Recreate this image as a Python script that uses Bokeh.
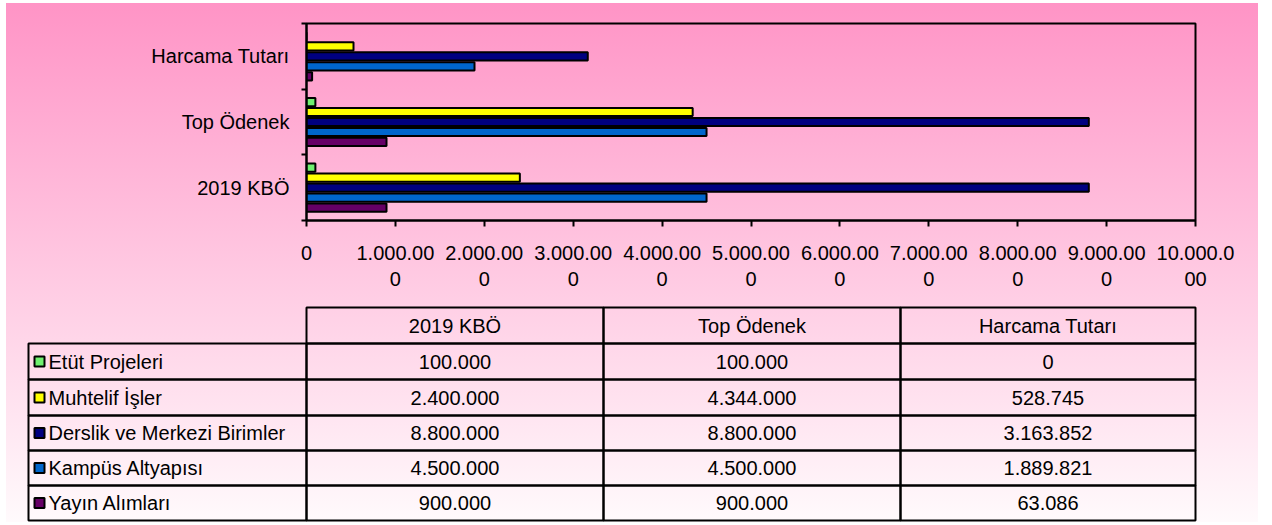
from bokeh.plotting import figure
from bokeh.models import Range1d, FixedTicker
from bokeh.embed import file_html
from bokeh.resources import INLINE
from bokeh.core.properties import value

# ---------------- data ----------------
categories = ["2019 KBÖ", "Top Ödenek", "Harcama Tutarı"]
series_names = ["Etüt Projeleri", "Muhtelif İşler", "Derslik ve Merkezi Birimler",
                "Kampüs Altyapısı", "Yayın Alımları"]
etut = [100000, 100000, 0]
muhtelif = [2400000, 4344000, 528745]
derslik = [8800000, 8800000, 3163852]
kampus = [4500000, 4500000, 1889821]
yayin = [900000, 900000, 63086]
series_values = [etut, muhtelif, derslik, kampus, yayin]
colors = ["#70F070", "#FFFF00", "#000080", "#0066CC", "#660066"]

x_ticks = [0, 1000000, 2000000, 3000000, 4000000, 5000000,
           6000000, 7000000, 8000000, 9000000, 10000000]
x_tick_labels = ["0", "1.000.00\n0", "2.000.00\n0", "3.000.00\n0", "4.000.00\n0",
                 "5.000.00\n0", "6.000.00\n0", "7.000.00\n0", "8.000.00\n0",
                 "9.000.00\n0", "10.000.0\n00"]

FONT = "Liberation Sans"
FS = "20px"


def fmt(v):
    return f"{v:,}".replace(",", ".")


GRAD = "linear-gradient(to bottom, #ff94c6 0%, #fffafc 100%)"


def bg(offset_y):
    return {"background-image": GRAD,
            "background-size": "1252px 519px",
            "background-position": f"6px {offset_y}px",
            "background-repeat": "no-repeat"}


# ---------------- chart ----------------
p = figure(width=1258, height=300,
           x_range=Range1d(0, 10000000), y_range=Range1d(0, 3),
           output_backend="svg", toolbar_location=None,
           min_border_left=306, min_border_right=63,
           min_border_top=23, min_border_bottom=80)
p.background_fill_color = None
p.border_fill_color = None
p.outline_line_color = "black"
p.outline_line_width = 2
p.grid.visible = False
p.styles = bg(3)

pitch = 0.152
for j, (vals, col) in enumerate(zip(series_values, colors)):
    off = (2 - j) * pitch
    ys = [i + 0.5 + off for i in range(len(categories))]
    p.hbar(y=ys, left=0, right=vals, height=0.125,
           fill_color=col, line_color="black", line_width=2)

xa = p.xaxis[0]
xa.ticker = FixedTicker(ticks=x_ticks, minor_ticks=[])
xa.major_label_overrides = {t: l for t, l in zip(x_ticks, x_tick_labels)}
xa.major_tick_out = 6
xa.major_tick_in = 0
xa.major_tick_line_width = 2
xa.major_tick_line_color = "black"
xa.axis_line_width = 2
xa.axis_line_color = "black"
xa.major_label_text_font = FONT
xa.major_label_text_font_size = FS
xa.major_label_text_color = "black"
xa.major_label_text_line_height = 1.2
xa.major_label_standoff = 15

ya = p.yaxis[0]
y_centers = [i + 0.5 for i in range(len(categories))]
ya.ticker = FixedTicker(ticks=y_centers, minor_ticks=[0, 1, 2, 3])
ya.major_label_overrides = {t: c for t, c in zip(y_centers, categories)}
ya.major_tick_line_color = None
ya.major_tick_out = 5
ya.major_tick_in = 0
ya.minor_tick_out = 5
ya.minor_tick_in = 0
ya.minor_tick_line_width = 2
ya.minor_tick_line_color = "black"
ya.axis_line_width = 2
ya.axis_line_color = "black"
ya.major_label_text_font = FONT
ya.major_label_text_font_size = FS
ya.major_label_text_color = "black"
ya.major_label_standoff = 12

# ---------------- data table ----------------
t = figure(width=1258, height=222,
           x_range=Range1d(0, 1258), y_range=Range1d(222, 0),
           output_backend="svg", toolbar_location=None,
           x_axis_location=None, y_axis_location=None, min_border=0)
t.background_fill_color = None
t.border_fill_color = None
t.outline_line_color = None
t.grid.visible = False
t.styles = bg(3 - 300)

col_edges = [28, 306, 603, 900, 1195]
row_edges = [7, 43, 79, 115, 150, 185, 220]

# header
t.quad(left=col_edges[1:4], right=col_edges[2:5],
       top=row_edges[0], bottom=row_edges[1],
       fill_color=None, line_color="black", line_width=2)
t.text(x=[(col_edges[k] + col_edges[k + 1]) / 2 for k in range(1, 4)],
       y=[(row_edges[0] + row_edges[1]) / 2] * 3, text=categories,
       text_font=value(FONT), text_font_size=FS, text_color="black",
       text_align="center", text_baseline="middle")

# body
for r, (name, vals, col) in enumerate(zip(series_names, series_values, colors)):
    top, bot = row_edges[r + 1], row_edges[r + 2]
    mid = (top + bot) / 2
    t.quad(left=col_edges[0:4], right=col_edges[1:5], top=top, bottom=bot,
           fill_color=None, line_color="black", line_width=2)
    t.quad(left=[col_edges[0] + 6], right=[col_edges[0] + 16],
           top=[mid - 5], bottom=[mid + 5],
           fill_color=col, line_color="black", line_width=2)
    t.text(x=[col_edges[0] + 20], y=[mid], text=[name],
           text_font=value(FONT), text_font_size=FS, text_color="black",
           text_align="left", text_baseline="middle")
    t.text(x=[(col_edges[k] + col_edges[k + 1]) / 2 for k in range(1, 4)],
           y=[mid] * 3, text=[fmt(v) for v in vals],
           text_font=value(FONT), text_font_size=FS, text_color="black",
           text_align="center", text_baseline="middle")

open("out.html", "w").write(file_html([p, t], INLINE))
